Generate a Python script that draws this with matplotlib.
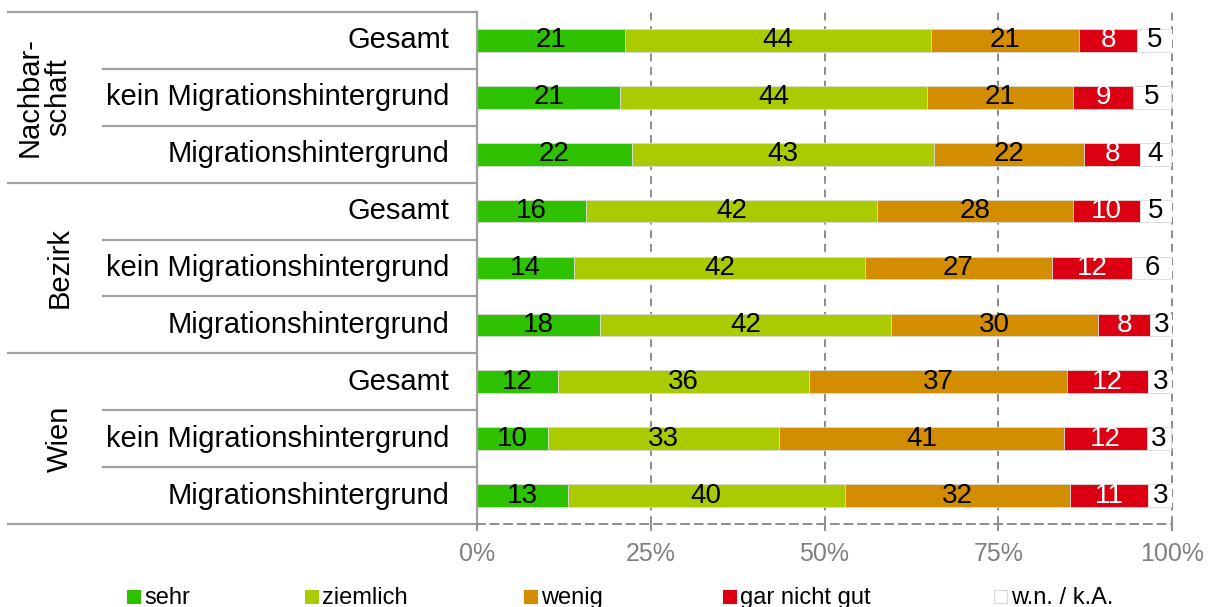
import matplotlib
matplotlib.use('Agg')
import matplotlib.pyplot as plt
import matplotlib.patches as mpatches
import numpy as np

plt.rcParams['font.family'] = ['Liberation Sans', 'DejaVu Sans']

# ===== Daten =====
groups = ['Nachbar-\nschaft', 'Bezirk', 'Wien']
rows = ['Gesamt', 'kein Migrationshintergrund', 'Migrationshintergrund'] * 3
categories = ['sehr', 'ziemlich', 'wenig', 'gar nicht gut', 'w.n. / k.A.']

sehr = [21.3, 20.6, 22.3, 15.7, 14.0, 17.7, 11.6, 10.2, 13.1]
ziemlich = [44.0, 44.2, 43.4, 41.8, 41.8, 41.9, 36.2, 33.3, 39.8]
wenig = [21.3, 21.0, 21.7, 28.2, 26.9, 29.7, 37.1, 40.9, 32.4]
gar_nicht = [8.4, 8.6, 8.0, 9.7, 11.6, 7.6, 11.7, 12.0, 11.3]
wn_ka = [5.0, 5.4, 4.4, 4.6, 5.7, 3.2, 3.4, 3.4, 3.4]

series = [sehr, ziemlich, wenig, gar_nicht, wn_ka]
colors = ['#2DC100', '#AACB00', '#D28E00', '#DB0012', '#FFFFFF']
label_colors = ['black', 'black', 'black', 'white', 'black']

W, H = 1210, 607
fig = plt.figure(figsize=(W / 100, H / 100), dpi=100)
ax = fig.add_axes([477 / W, 1 - 524 / H, 695 / W, 512 / H])

y = np.arange(len(rows))
left = np.zeros(len(rows))
for vals, col, lc in zip(series, colors, label_colors):
    vals = np.array(vals)
    ax.barh(y, vals, left=left, height=0.4, color=col,
            edgecolor='#D9D9D9', linewidth=0.6, zorder=2)
    for yi, l, v in zip(y, left, vals):
        ax.text(l + v / 2, yi, f'{v:.0f}', ha='center', va='center',
                fontsize=20, color=lc, zorder=3)
    left += vals

ax.set_xlim(0, 100)
ax.set_ylim(len(rows) - 0.5, -0.5)

# Gitterlinien
for gx in [25, 50, 75, 100]:
    ax.axvline(gx, color='#8C8C8C', ls=(0, (4, 3)), lw=1.4, zorder=0, clip_on=False)

# Achsen
for s in ['top', 'right']:
    ax.spines[s].set_visible(False)
ax.spines['left'].set_color('#A0A0A0')
ax.spines['left'].set_linewidth(1.6)
ax.spines['bottom'].set_color('#8C8C8C')
ax.spines['bottom'].set_linestyle((0, (4, 3)))
ax.spines['bottom'].set_linewidth(1.4)

ax.set_xticks([0, 25, 50, 75, 100])
ax.set_xticklabels(['0%', '25%', '50%', '75%', '100%'])
ax.tick_params(axis='x', colors='#8C8C8C', labelcolor='#808080', labelsize=18,
               length=5, width=1.4, direction='out', pad=8)
ax.set_yticks([])

# Zeilenbeschriftungen und Trennlinien
tr = ax.get_yaxis_transform()
x_out = (8 - 477) / 695
x_in = (103 - 477) / 695
for yi, r in zip(y, rows):
    ax.text(-0.04, yi, r, transform=tr, ha='right', va='center', fontsize=21)
for k in range(len(rows) + 1):
    xs = x_out if k % 3 == 0 else x_in
    ax.plot([xs, 0], [k - 0.5, k - 0.5], transform=tr, color='#A0A0A0',
            lw=1.6, clip_on=False)

group_x = [44, 60, 60]
for gi, (g, gx) in enumerate(zip(groups, group_x)):
    ax.text((gx - 477) / 695, gi * 3 + 1, g, transform=tr, rotation=90,
            ha='center', va='center', fontsize=21, linespacing=1.05,
            multialignment='center')

# Legende
leg_x = [127, 305, 524, 723, 994]
sq = 13
for lx, cat, col in zip(leg_x, categories, colors):
    fig.patches.append(mpatches.Rectangle(
        (lx / W, 1 - (596.5 + sq / 2) / H), sq / W, sq / H,
        transform=fig.transFigure, facecolor=col,
        edgecolor='#D9D9D9' if col == '#FFFFFF' else col, lw=0.8))
    fig.text((lx + sq + 4) / W, 1 - 598 / H, cat, ha='left', va='center',
             fontsize=17)

fig.savefig('out.png', dpi=100, facecolor='white')
